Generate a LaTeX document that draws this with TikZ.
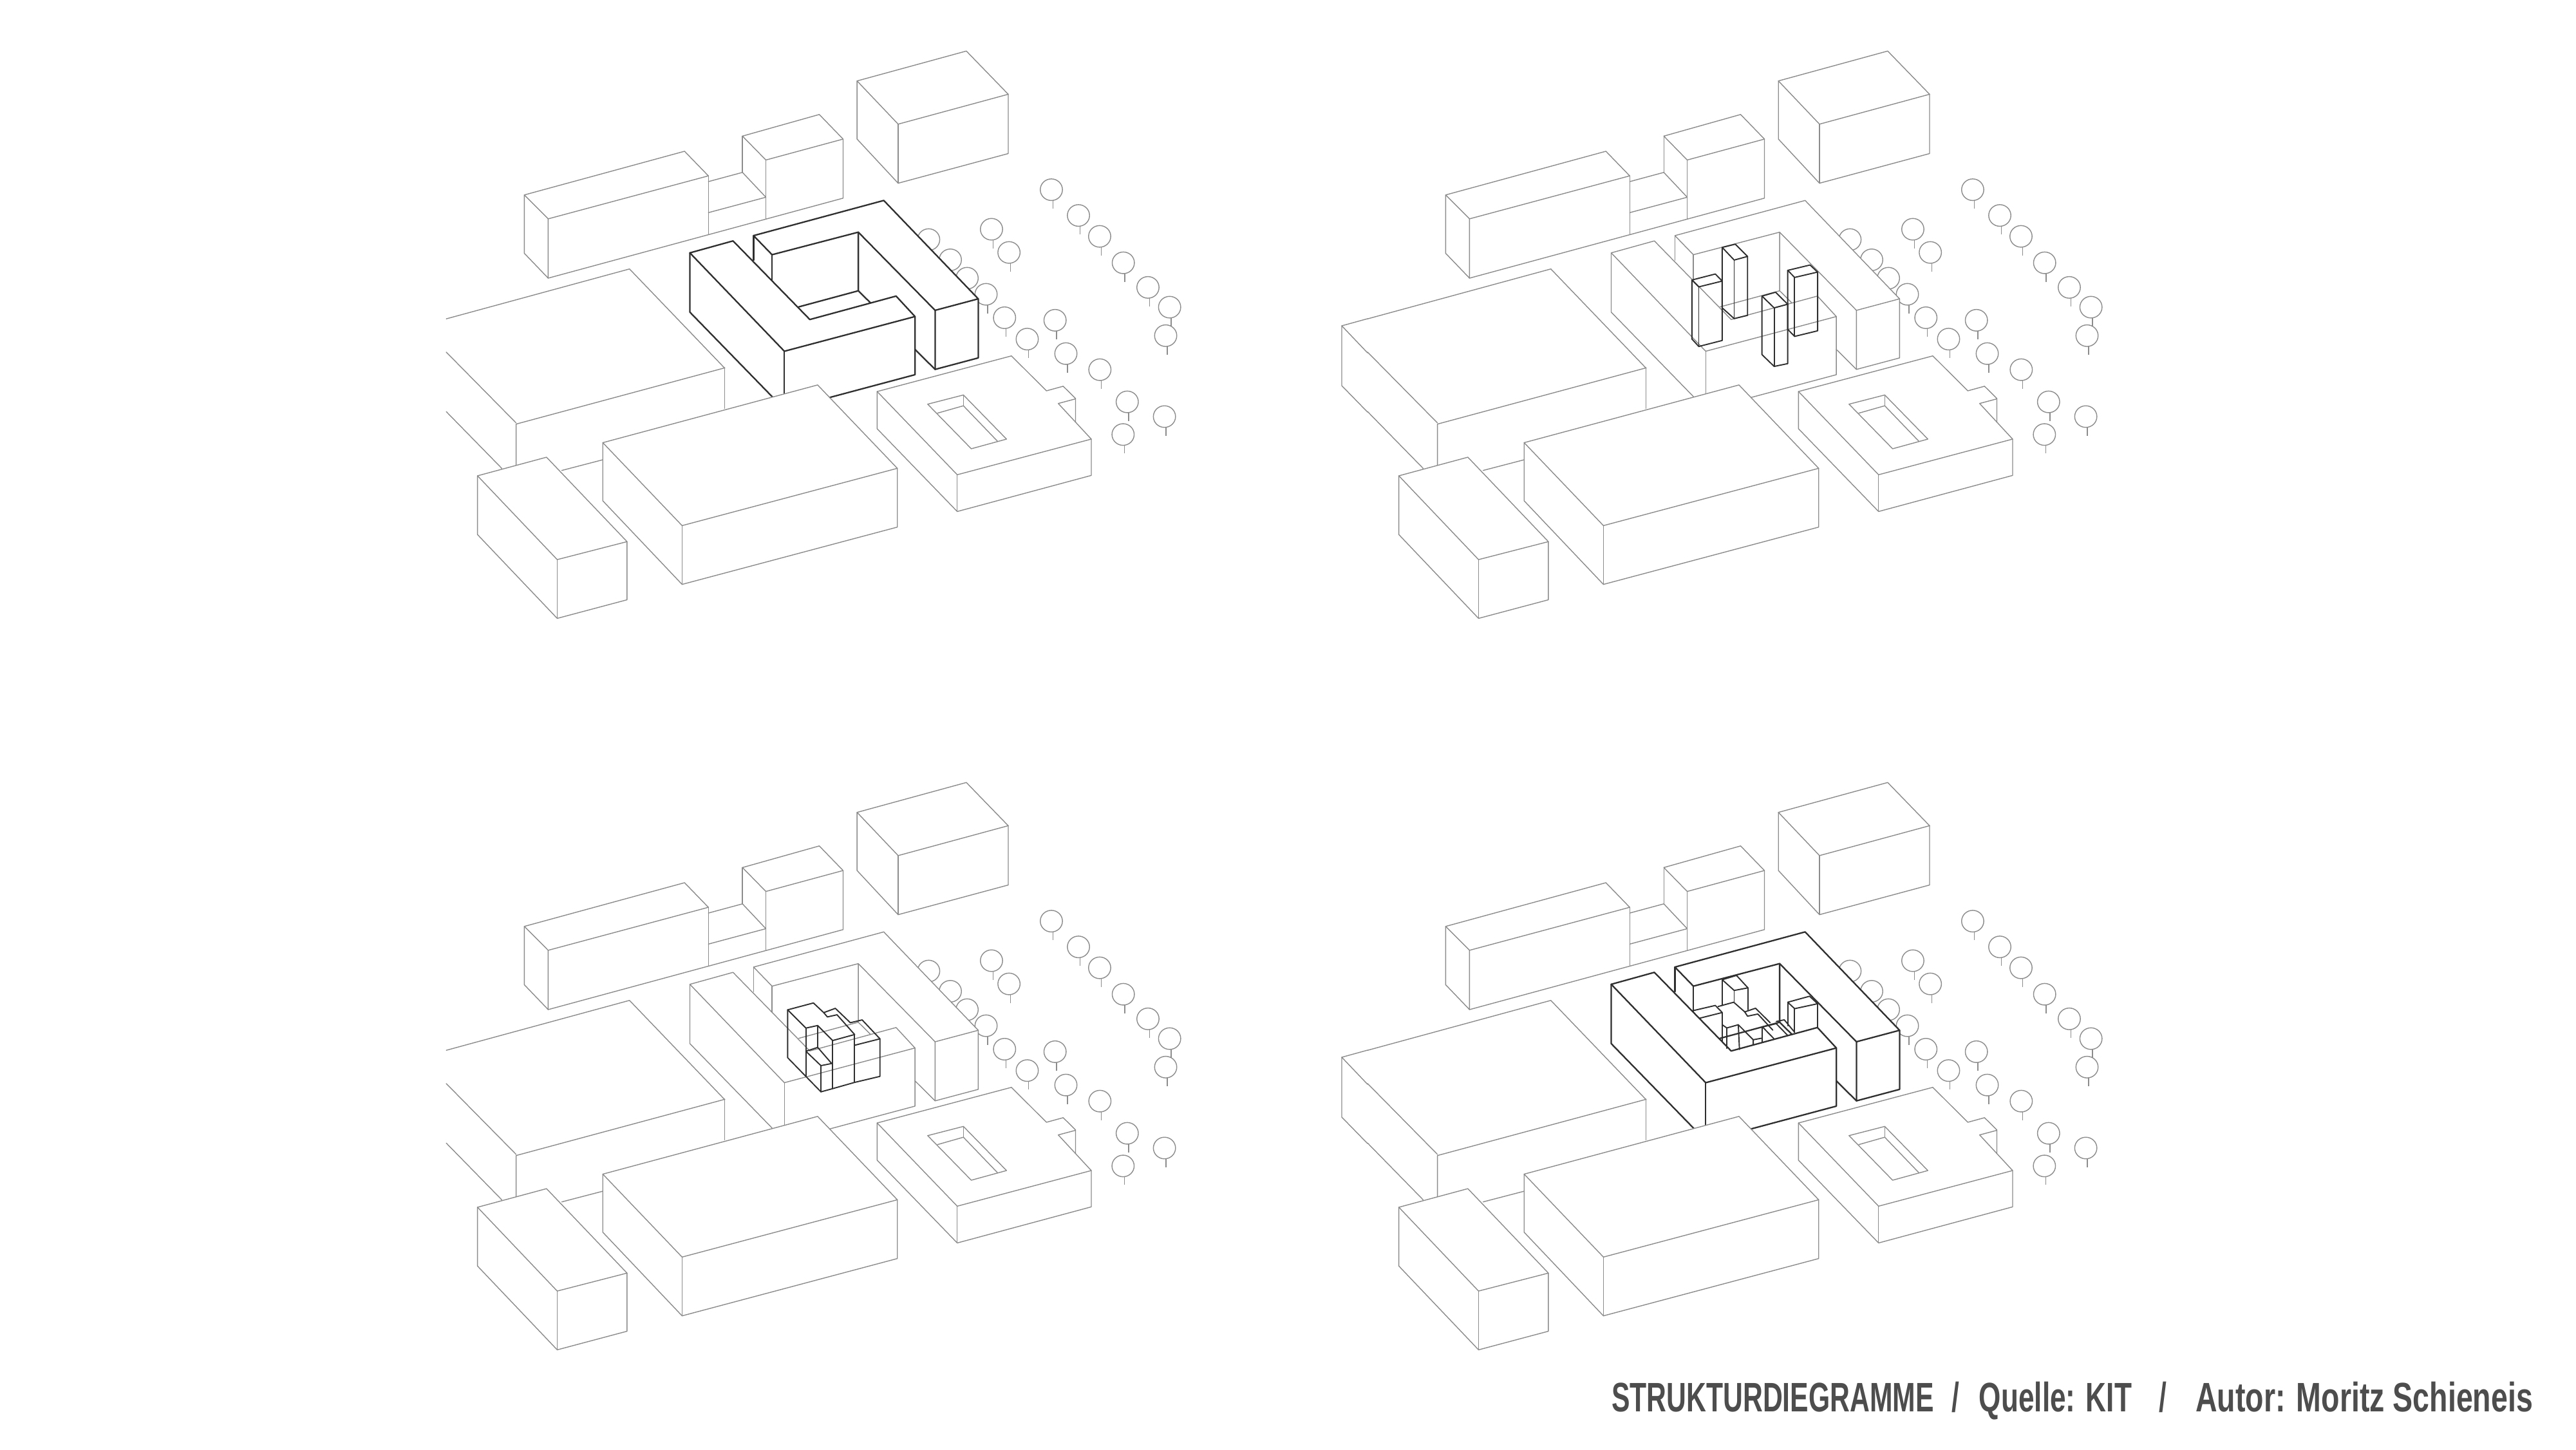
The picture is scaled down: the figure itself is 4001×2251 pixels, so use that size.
\documentclass[tikz,border=0pt]{standalone}
\usepackage{fontspec}
\setmainfont{Liberation Sans}
\definecolor{lightline}{HTML}{8C8C8C}
\definecolor{darkline}{HTML}{2F2F2F}
\definecolor{labelgray}{HTML}{4D4D4D}
\tikzset{
  zA/.style={shift={(660,50)},x=.319pt,y=-.1785pt},
  zB/.style={shift={(660,480)},x=.319pt,y=-.166pt},
  zC/.style={shift={(1300,250)},x=.19135pt,y=-.1785pt},
  zD/.style={shift={(1019,300)},x=.1785pt,y=-.1665pt},
  zE/.style={shift={(1050,344)},x=.1667pt,y=-.1667pt},
  zF/.style={shift={(1019,304)},x=.1785pt,y=-.1665pt},
  ctx/.style={draw=lightline,line width=.7pt,line join=round,line cap=round},
  treeline/.style={draw=lightline,line width=.7pt},
  heavy/.style={draw=darkline,line width=1.15pt,line join=round,line cap=round},
  medium/.style={draw=darkline,line width=.95pt,line join=round,line cap=round}
}
\newcommand{\treeT}[2]{%
  \draw[treeline] (#1,#2) ellipse [x radius=45, y radius=47];
  \draw[treeline] (#1+6,#2+47) -- (#1+6,#2+83);}
\newcommand{\treeN}[2]{\draw[treeline] (#1,#2) ellipse [x radius=45, y radius=47];}
\newcommand{\leftcorner}{%
  \draw[ctx] (693,495)--(653,506)--(693,548);
  \draw[ctx] (653,506)--(653,599)--(693,640);}
% #1,#2 panel offset, #3 style of the main block, #4 extra drawing
\newcommand{\panelfig}[4]{%
\begin{scope}[shift={(#1,#2)}]
  % trees
  \begin{scope}[zC]
    \treeT{870}{125}\treeT{980}{237}\treeT{1066}{328}\treeT{1162}{443}
    \treeT{1262}{550}\treeT{1350}{636}\treeT{1334}{760}
    \treeT{627}{297}\treeT{698}{398}
    \treeN{372}{342}\treeN{460}{430}\treeN{528}{510}
    \treeT{605}{580}\treeT{680}{682}\treeT{772}{775}
    \treeT{885}{693}\treeT{929}{838}\treeT{1067}{908}
    \treeT{1178}{1048}\treeT{1329}{1112}\treeT{1161}{1190}
  \end{scope}
  \begin{scope}[zA]
    % block mask
    \fill[white] (800,885)--(1117,732)--(1347,1160)--(1347,1417)--(1242,1467)--(1193,1380)--(1193,1237)--(875,1388)--(645,960)--(750,908)--(797,992)--cycle;
    % context buildings, top row
    \draw[ctx] (1052,212)--(1318,82)--(1420,270)--(1152,400)--cycle;
    \draw[ctx] (1052,212)--(1052,465)--(1152,657)--(1420,528)--(1420,270);
    \draw[ctx] (1152,400)--(1152,657);
    \draw[ctx] (773,452)--(960,358)--(1018,465)--(830,556)--cycle;
    \draw[ctx] (773,452)--(773,610);
    \draw[ctx] (830,556)--(830,812);
    \draw[ctx] (1018,465)--(1018,722)--(300,1070);
    \draw[ctx] (690,650)--(773,610)--(830,718)--(690,785);
    \draw[ctx] (242,708)--(632,518)--(690,625)--(300,812)--cycle;
    \draw[ctx] (242,708)--(242,962)--(300,1070)--(300,812);
    \draw[ctx] (690,625)--(690,880);
    % large building, left
    \draw[ctx] (52,1247)--(498,1030)--(730,1462);
    \draw[ctx] (52,1392)--(222,1700);
    % main block
    \draw[#3] (645,960)--(750,908)--(937,1250)--(1147,1148)--(1193,1237)--(875,1388)--cycle;
    \draw[#3] (645,960)--(645,1218)--(852,1598);
    \draw[#3] (875,1388)--(875,1600);
    \draw[#3] (1193,1237)--(1193,1490)--(950,1606);
    \draw[#3] (1193,1380)--(1242,1467);
    \draw[#3] (800,885)--(1117,732)--(1347,1160)--(1242,1210)--(1055,870)--(845,968)--cycle;
    \draw[#3] (800,885)--(800,992);
    \draw[#3] (845,968)--(845,1080);
    \draw[#3] (1055,870)--(1055,1125)--(910,1195);
    \draw[#3] (1055,1125)--(1085,1178);
    \draw[#3] (1242,1210)--(1242,1467)--(1347,1417)--(1347,1160);
  \end{scope}
  #4
  \begin{scope}[zB]
    \draw[ctx] (730,275)--(222,538)--(222,740);
    \draw[ctx] (730,275)--(730,465);
    \draw[ctx] (52,480)--(187,745);
    \draw[ctx] (333,755)--(433,705);
    % front centre building
    \filldraw[ctx,fill=white] (433,625)--(956,355)--(1150,745)--(626,1013)--cycle;
    \draw[ctx] (433,625)--(433,897)--(626,1288)--(1150,1020)--(1150,745);
    \draw[ctx] (626,1013)--(626,1288);
    % front left building
    \filldraw[ctx,fill=white] (128,780)--(296,693)--(492,1088)--(322,1172)--cycle;
    \draw[ctx] (128,780)--(128,1055)--(322,1447)--(492,1360)--(492,1088);
    \draw[ctx] (322,1172)--(322,1447);
  \end{scope}
  % courtyard building
  \begin{scope}[zC]
    \draw[ctx] (163,1003)--(708,848)--(850,1000)--(918,980)--(968,1033)--(968,1135);
    \draw[ctx] (968,1035)--(898,1055)--(1032,1210)--(488,1365)--(163,1003);
    \draw[ctx] (163,1003)--(163,1165)--(488,1525)--(1032,1368)--(1032,1210);
    \draw[ctx] (488,1365)--(488,1525);
    \draw[ctx] (368,1058)--(513,1018)--(688,1210)--(545,1252)--cycle;
    \draw[ctx] (408,1097)--(513,1065)--(652,1220);
    \draw[ctx] (513,1018)--(513,1065);
  \end{scope}
\end{scope}}
\begin{document}
\begin{tikzpicture}[x=.5pt,y=-.5pt]
\useasboundingbox (0,0) rectangle (4001,2251);
\fill[white] (0,0) rectangle (4001,2251);
\panelfig{0}{0}{heavy}{}
\panelfig{1431}{0}{ctx}{%
  \leftcorner
  \begin{scope}[zD]
    \draw[medium] (498,405)--(600,377)--(630,410)--(528,437)--cycle;
    \draw[medium] (498,405)--(498,680)--(528,715)--(630,687)--(630,410);
    \draw[medium] (528,437)--(528,715);
    \draw[medium] (630,253)--(687,238)--(740,295)--(682,312)--cycle;
    \draw[medium] (630,253)--(630,535)--(682,585)--(740,570)--(740,295);
    \draw[medium] (682,312)--(682,585);
    \draw[medium] (803,480)--(862,462)--(915,518)--(856,535)--cycle;
    \draw[medium] (803,480)--(803,753)--(856,808)--(915,795)--(915,518);
    \draw[medium] (856,535)--(856,808);
    \draw[medium] (915,360)--(1012,335)--(1045,368)--(945,393)--cycle;
    \draw[medium] (915,360)--(915,635)--(945,668)--(1045,642)--(1045,368);
    \draw[medium] (945,393)--(945,668);
  \end{scope}}
\panelfig{0}{1136}{ctx}{%
  \begin{scope}[zE]
    \draw[medium] (520,265)--(640,233)--(688,278)--(742,258)--(812,325)--(867,312)--(950,400)--(950,575)--(832,603)--(730,632)--(675,647)--(520,488)--cycle;
    \draw[medium] (520,265)--(605,350)--(660,338)--(730,408)--(832,380)--(750,288)--(705,298)--(688,278);
    \draw[medium] (730,408)--(730,632);
    \draw[medium] (832,380)--(832,603);
    \draw[medium] (832,430)--(950,400);
    \draw[medium] (605,350)--(605,575);
    \draw[medium] (660,338)--(660,440);
    \draw[medium] (605,458)--(660,440)--(725,515)--(675,525)--cycle;
    \draw[medium] (675,525)--(675,647);
  \end{scope}}
\panelfig{1431}{1136}{heavy}{%
  \leftcorner
  \begin{scope}[zF]
    \draw[medium] (630,245)--(630,365);
    \draw[medium] (630,245)--(692,225)--(742,283)--(682,295)--cycle;
    \draw[medium] (682,295)--(682,350);
    \draw[medium] (742,283)--(742,385);
    \draw[medium] (500,390)--(600,365)--(630,398)--(530,425);
    \draw[medium] (630,398)--(630,535);
    \draw[medium] (612,370)--(680,350)--(728,395)--(775,378)--(838,445);
    \draw[medium] (728,395)--(740,415)--(785,405)--(850,480);
    \draw[medium] (630,455)--(650,470)--(700,455)--(765,525)--(765,550);
    \draw[medium] (650,470)--(650,565);
    \draw[medium] (700,455)--(705,570);
    \draw[medium] (765,525)--(800,518);
    \draw[medium] (805,465)--(865,450)--(915,505);
    \draw[medium] (805,465)--(805,535);
    \draw[medium] (805,465)--(855,520);
    \draw[medium] (865,440)--(900,432)--(945,490);
    \draw[medium] (915,350)--(1010,322)--(1045,357)--(945,380)--cycle;
    \draw[medium] (915,350)--(915,460);
    \draw[medium] (945,380)--(945,490);
    \draw[medium] (1045,357)--(1045,470);
  \end{scope}}
\node[anchor=base west,inner sep=0pt,xscale=.667,text=labelgray,font=\fontsize{32pt}{36pt}\selectfont\bfseries] (caption) at (2503,2192) {STRUKTURDIEGRAMME\hspace{20.8pt}/\hspace{23pt}\scalebox{1.034}[1]{Quelle: KIT}\hspace{32pt}/\hspace{33.4pt}\scalebox{1.09}[1]{Autor: Moritz Schieneis}};
\end{tikzpicture}
\end{document}
